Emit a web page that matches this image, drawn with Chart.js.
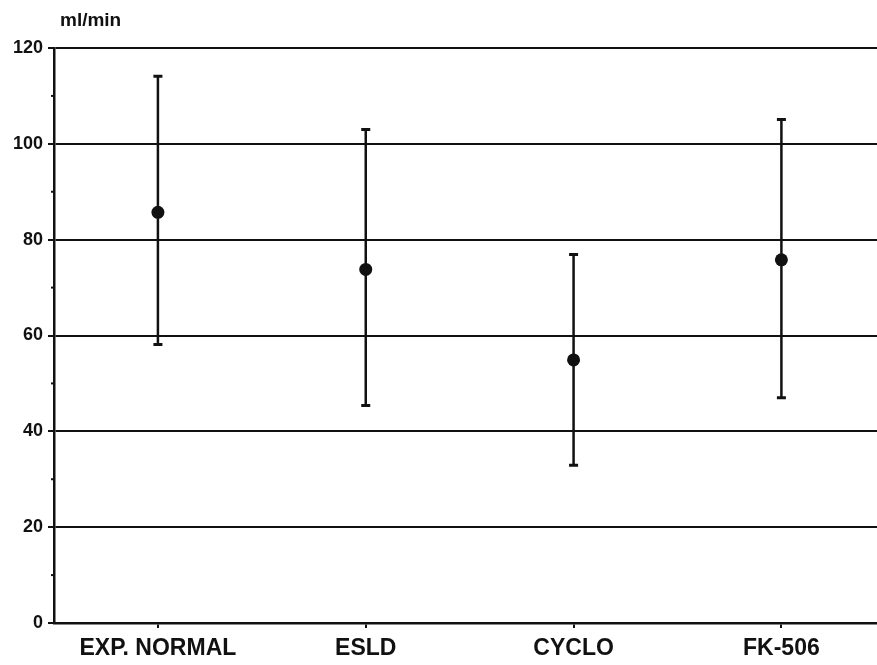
<!DOCTYPE html>
<html>
<head>
<meta charset="utf-8">
<script src="https://cdn.jsdelivr.net/npm/chart.js@4"></script>
<style>
  html, body { margin: 0; padding: 0; background: #fff; overflow: hidden; }
  #wrap { width: 877px; height: 665px; position: relative; }
</style>
</head>
<body>
<div id="wrap"><canvas id="c"></canvas></div>
<script>
const categories = ["EXP. NORMAL", "ESLD", "CYCLO", "FK-506"];
const meanValues = [85.7, 73.8, 54.9, 75.8];
const upperValues = [114.1, 103.0, 76.9, 105.1];
const lowerValues = [58.1, 45.4, 32.9, 47.0];
const yTicks = [0, 20, 40, 60, 80, 100, 120];
const yMinorTicks = [10, 30, 50, 70, 90, 110];
const unitLabel = "ml/min";

const FONT = "'Liberation Sans', Arial, Helvetica, sans-serif";
const INK = "#111";

const errorBarPlugin = {
  id: 'errorBars',
  afterDatasetsDraw(chart) {
    const ctx = chart.ctx;
    const xs = chart.scales.x, ys = chart.scales.y;
    ctx.save();
    ctx.strokeStyle = INK;
    categories.forEach((c, i) => {
      const px = xs.getPixelForValue(i);
      const pu = ys.getPixelForValue(upperValues[i]);
      const pl = ys.getPixelForValue(lowerValues[i]);
      ctx.lineWidth = 2.5;
      ctx.beginPath();
      ctx.moveTo(px, pu); ctx.lineTo(px, pl);
      ctx.stroke();
      ctx.lineWidth = 3;
      ctx.beginPath();
      ctx.moveTo(px - 4.5, pu); ctx.lineTo(px + 4.5, pu);
      ctx.moveTo(px - 4.5, pl); ctx.lineTo(px + 4.5, pl);
      ctx.stroke();
    });
    ctx.restore();
  }
};

const decorPlugin = {
  id: 'decor',
  afterDraw(chart) {
    const ctx = chart.ctx;
    const ys = chart.scales.y;
    const left = chart.chartArea.left;
    ctx.save();
    ctx.strokeStyle = INK;
    ctx.lineWidth = 2;
    yMinorTicks.forEach(v => {
      const py = ys.getPixelForValue(v);
      ctx.beginPath();
      ctx.moveTo(left - 3, py); ctx.lineTo(left, py);
      ctx.stroke();
    });
    ctx.fillStyle = INK;
    ctx.font = "bold 19px " + FONT;
    ctx.textAlign = 'left';
    ctx.textBaseline = 'alphabetic';
    ctx.fillText(unitLabel, 60, 26);
    ctx.restore();
  }
};

new Chart(document.getElementById('c'), {
  type: 'scatter',
  data: {
    datasets: [{
      data: meanValues.map((v, i) => ({ x: i, y: v })),
      backgroundColor: INK,
      borderColor: INK,
      pointRadius: 6.5,
      pointHoverRadius: 6.5,
      pointBorderWidth: 0
    }]
  },
  options: {
    responsive: true,
    maintainAspectRatio: false,
    animation: false,
    layout: { autoPadding: false, padding: { top: 48, right: 0, left: 0, bottom: 0 } },
    plugins: { legend: { display: false }, tooltip: { enabled: false }, title: { display: false } },
    scales: {
      x: {
        type: 'linear',
        min: -0.5,
        max: 3.46,
        afterBuildTicks(scale) { scale.ticks = categories.map((c, i) => ({ value: i })); },
        afterFit(scale) { scale.height = 42; },
        ticks: {
          callback: (v) => categories[v] ?? '',
          color: INK,
          font: { family: FONT, size: 23, weight: 'bold' },
          padding: 7,
          maxRotation: 0,
          autoSkip: false
        },
        grid: { drawOnChartArea: false, drawTicks: true, tickLength: 5, color: INK, lineWidth: 2 },
        border: { display: true, color: INK, width: 2.5 }
      },
      y: {
        min: 0,
        max: 120,
        afterBuildTicks(scale) { scale.ticks = yTicks.map(v => ({ value: v })); },
        afterFit(scale) { scale.width = 54; },
        ticks: {
          color: INK,
          font: { family: FONT, size: 18, weight: 'bold' },
          padding: 5
        },
        grid: { color: INK, lineWidth: 2, tickLength: 6 },
        border: { display: true, color: INK, width: 2.5 }
      }
    }
  },
  plugins: [errorBarPlugin, decorPlugin]
});
</script>
</body>
</html>
